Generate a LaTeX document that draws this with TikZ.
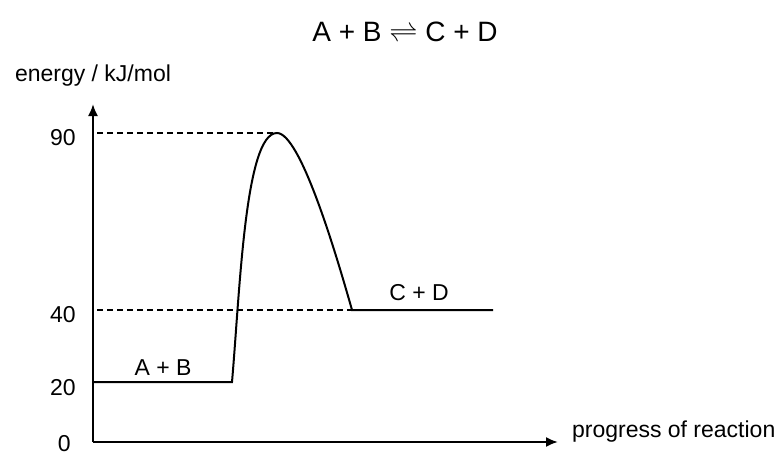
\documentclass[tikz,border=0pt]{standalone}
\usepackage{fontspec}
\setmainfont{Liberation Sans}
\usetikzlibrary{arrows.meta, positioning, calc}

\begin{document}
\begin{tikzpicture}[x=0.5pt, y=-0.5pt, font=\fontsize{11.5}{13}\selectfont]
            \tikzstyle{axis} = [line width=1pt, -{Latex[length=6pt, width=5pt]}]
            \tikzstyle{level} = [line width=1pt]
            \tikzstyle{guide} = [line width=0.7pt, dash pattern=on 3pt off 2pt]
            \tikzstyle{tick} = [anchor=east, inner sep=0pt]

            \useasboundingbox (0,0) rectangle (782,455);

            \coordinate (o) at (93,442);
            \coordinate (ytop) at (93,104);
            \coordinate (xend) at (558,442);
            \coordinate (r1) at (93,382);
            \coordinate (r2) at (232,382);
            \coordinate (ts) at (277,133);
            \coordinate (p1) at (352,310);
            \coordinate (p2) at (493,310);
            \coordinate (g90) at (97,133);
            \coordinate (g40) at (97,310);

            \node (title) at (405,32) {\fontsize{14}{16}\selectfont A + B $\rightleftharpoons$ C + D};
            \node (ylab) at (93,76) {energy / kJ/mol};
            \node[anchor=base west] (xlab) at (565,437) {progress of reaction};

            \node[tick] (t90) at (76,138) {90};
            \node[tick] (t40) at (76,315) {40};
            \node[tick] (t20) at (76,388) {20};
            \node[tick] (t0) at (71,444) {0};

            \node (ab) at (163,368) {A + B};
            \node (cd) at (419,293) {C + D};

            % axes
            \draw[axis] (o) -- (ytop);
            \draw[axis] (o) -- (xend);

            % guide lines
            \draw[guide] (g90) -- (ts);
            \draw[guide] (g40) -- (p1);

            % energy profile
            \draw[level] (r1) -- (r2)
                .. controls (240,290) and (245,133) .. (ts)
                .. controls (300,133) and (335,250) .. (p1) -- (p2);
        \end{tikzpicture}
\end{document}
